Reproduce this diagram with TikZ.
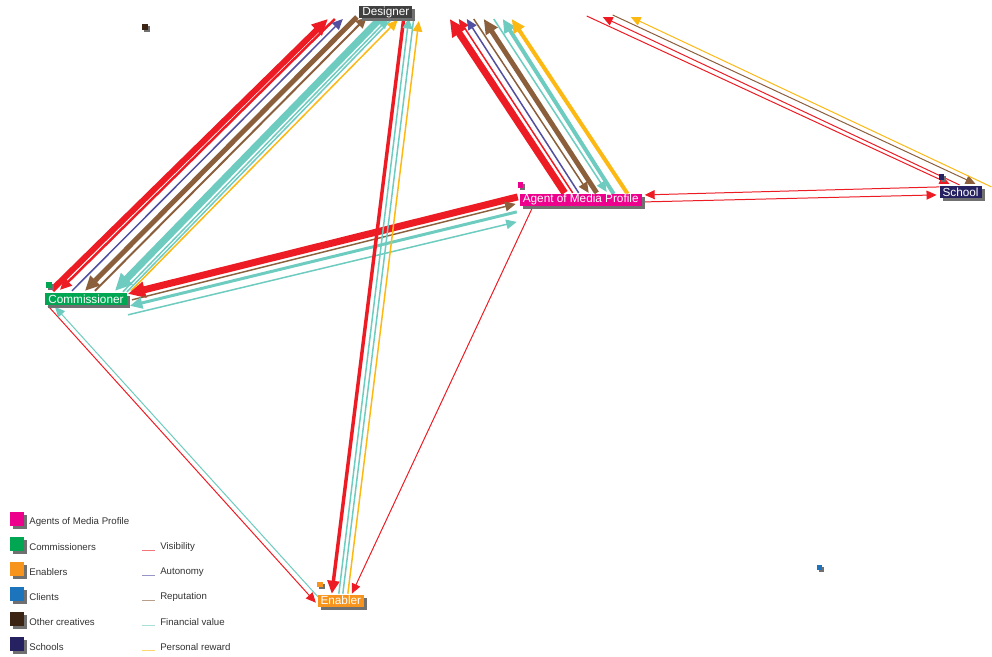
\documentclass[tikz,border=0pt]{standalone}
\usepackage{fontspec}
\setmainfont{Liberation Sans}
\usetikzlibrary{arrows.meta,shadows}
\definecolor{agentpink}{HTML}{EC008C}
\definecolor{commgreen}{HTML}{00A651}
\definecolor{enabor}{HTML}{F7941D}
\definecolor{clientblue}{HTML}{1C75BC}
\definecolor{otherbrown}{HTML}{3C2415}
\definecolor{schoolnavy}{HTML}{262262}
\definecolor{desgray}{HTML}{404041}
\definecolor{shadgray}{HTML}{707070}
\definecolor{visred}{HTML}{ED1C24}
\definecolor{autpurple}{HTML}{524FA1}
\definecolor{repbrown}{HTML}{8B5E3C}
\definecolor{finteal}{HTML}{6DCCBF}
\definecolor{peryellow}{HTML}{FDB913}
\definecolor{keygray}{HTML}{333333}
\pgfdeclarelayer{bg}
\pgfdeclarelayer{edges}
\pgfsetlayers{bg,edges,main}
\tikzset{
  lbl/.style={text=white, font=\fontsize{6.7pt}{7pt}\selectfont, inner xsep=0.06cm, inner ysep=0pt,
    minimum height=0.24cm, drop shadow={shadow xshift=0.06cm, shadow yshift=-0.06cm, fill=shadgray, opacity=1}},
  mk/.style={minimum size=0.11cm, inner sep=0pt,
    drop shadow={shadow xshift=0.04cm, shadow yshift=-0.04cm, fill=shadgray, opacity=1}},
  key/.style={minimum size=0.28cm, inner sep=0pt,
    drop shadow={shadow xshift=0.06cm, shadow yshift=-0.06cm, fill=shadgray, opacity=1}},
  keytxt/.style={anchor=west, inner sep=0pt, text=keygray, font=\fontsize{5.5pt}{6pt}\selectfont},
  lw/.style={line width=#1*0.567pt},
  hd/.style={-{Triangle[length=5pt 1.2, width'=0pt .9]}}
}

\begin{document}
\begin{tikzpicture}[x=0.02cm, y=-0.02cm]
  \begin{pgfonlayer}{bg}
  \useasboundingbox[fill=white] (0,0) rectangle (992,657);
  \end{pgfonlayer}

  % nodes
  \node[lbl, fill=desgray] (des) at (386,12) {Designer};
  \node[lbl, fill=agentpink] (agt) at (581,200) {Agent of Media Profile};
  \node[lbl, fill=schoolnavy] (sch) at (961,192) {School};
  \node[lbl, fill=commgreen] (com) at (86,299) {Commissioner};
  \node[lbl, fill=enabor] (enb) at (341,601) {Enabler};
  \coordinate (top) at (610,16);

  % markers
  \node[mk, fill=agentpink] (agtm) at (521,185) {};
  \node[mk, fill=schoolnavy] (schm) at (942,177) {};
  \node[mk, fill=commgreen] (comm) at (49,285) {};
  \node[mk, fill=enabor] (enbm) at (320,585) {};
  \node[mk, fill=otherbrown] (othm) at (145,27) {};
  \node[mk, fill=clientblue] (clim) at (820,568) {};

  \begin{pgfonlayer}{edges}
  % commissioner - designer
  \draw[visred, lw=6, hd] ([shift={(-34,-9)}]com.center) -- ([shift={(-58,7)}]des.center);
  \draw[visred, lw=2.5, hd] ([shift={(-51,7)}]des.center) -- ([shift={(-26,-9)}]com.center);
  \draw[autpurple, lw=1.5, hd] ([shift={(-14,-8)}]com.center) -- ([shift={(-43,7)}]des.center);
  \draw[repbrown, lw=5, hd] ([shift={(-29,5)}]des.center) -- ([shift={(-1,-8)}]com.center);
  \draw[repbrown, lw=2, hd] ([shift={(9,-8)}]com.center) -- ([shift={(-19,5)}]des.center);
  \draw[finteal, lw=7, hd] ([shift={(-5,6)}]des.center) -- ([shift={(29,-8)}]com.center);
  \draw[finteal, lw=1.5, hd] ([shift={(37,-7)}]com.center) -- ([shift={(3,6)}]des.center);
  \draw[finteal, lw=1.5] ([shift={(41,-7)}]com.center) -- ([shift={(7,6)}]des.center);
  \draw[peryellow, lw=1.5, hd] ([shift={(45,-8)}]com.center) -- ([shift={(12,8)}]des.center);

  % agent - designer
  \draw[visred, lw=7, hd] ([shift={(-16,-7)}]agt.center) -- ([shift={(64,7)}]des.center);
  \draw[visred, lw=1.5, hd] ([shift={(-8,-7)}]agt.center) -- ([shift={(73,7)}]des.center);
  \draw[autpurple, lw=1.5, hd] ([shift={(-2,-7)}]agt.center) -- ([shift={(81,7)}]des.center);
  \draw[repbrown, lw=1.5, hd] ([shift={(88,7)}]des.center) -- ([shift={(8,-7)}]agt.center);
  \draw[repbrown, lw=5, hd] ([shift={(16,-7)}]agt.center) -- ([shift={(98,7)}]des.center);
  \draw[finteal, lw=1.5, hd] ([shift={(108,7)}]des.center) -- ([shift={(26,-8)}]agt.center);
  \draw[finteal, lw=4, hd] ([shift={(33,-6)}]agt.center) -- ([shift={(117,7)}]des.center);
  \draw[peryellow, lw=4, hd] ([shift={(47,-6)}]agt.center) -- ([shift={(126,7)}]des.center);

  % agent - commissioner
  \draw[visred, lw=7, hd] ([shift={(-63,-3)}]agt.center) -- ([shift={(42,-5)}]com.center);
  \draw[repbrown, lw=1.5, hd] ([shift={(46,1)}]com.center) -- ([shift={(-65,4)}]agt.center);
  \draw[finteal, lw=3, hd] ([shift={(-64,12)}]agt.center) -- ([shift={(44,7)}]com.center);
  \draw[finteal, lw=1.5, hd] ([shift={(42,16)}]com.center) -- ([shift={(-64,22)}]agt.center);

  % commissioner - enabler
  \draw[visred, lw=1, hd] ([shift={(-38,7)}]com.center) -- ([shift={(-25,2)}]enb.center);
  \draw[finteal, lw=1, hd] ([shift={(-23,-4)}]enb.center) -- ([shift={(-31,8)}]com.center);

  % designer - enabler
  \draw[visred, lw=3.5, hd] ([shift={(18,6)}]des.center) -- ([shift={(-9,-7)}]enb.center);
  \draw[finteal, lw=1.5, hd] ([shift={(-2,-7)}]enb.center) -- ([shift={(23,6)}]des.center);
  \draw[finteal, lw=1.5] ([shift={(28,6)}]des.center) -- ([shift={(2,-7)}]enb.center);
  \draw[peryellow, lw=1.5, hd] ([shift={(7,-7)}]enb.center) -- ([shift={(33,9)}]des.center);

  % agent - enabler
  \draw[visred, lw=1, hd] ([shift={(-48,7)}]agt.center) -- ([shift={(11,-7)}]enb.center);

  % agent - school
  \draw[visred, lw=1, hd] ([shift={(-21,-5)}]sch.center) -- ([shift={(64,-5)}]agt.center);
  \draw[visred, lw=1, hd] ([shift={(64,2)}]agt.center) -- ([shift={(-24,3)}]sch.center);

  % school - top
  \draw[visred, lw=1, hd] ([shift={(-23,0)}]top) -- ([shift={(-11,-8)}]sch.center);
  \draw[visred, lw=1, hd] ([shift={(-1,-7)}]sch.center) -- ([shift={(-7,1)}]top);
  \draw[repbrown, lw=1, hd] ([shift={(3,-1)}]top) -- ([shift={(15,-8)}]sch.center);
  \draw[peryellow, lw=1, hd] ([shift={(31,-5)}]sch.center) -- ([shift={(21,1)}]top);
  \end{pgfonlayer}

  % legend
  \foreach \c/\t [count=\i from 0] in {agentpink/Agents of Media Profile, commgreen/Commissioners,
      enabor/Enablers, clientblue/Clients, otherbrown/Other creatives, schoolnavy/Schools} {
    \node[key, fill=\c] (key\i) at (17,519+25*\i) {};
    \node[keytxt] (keyt\i) at (29,522+25*\i) {\t};
  }
  \foreach \c/\t [count=\i from 1] in {visred/Visibility, autpurple/Autonomy, repbrown/Reputation,
      finteal/Financial value, peryellow/Personal reward} {
    \draw[\c, opacity=.6, lw=1.5] (142,526+25*\i) -- (155,526+25*\i);
    \node[keytxt] (linet\i) at (160,522+25*\i) {\t};
  }
\end{tikzpicture}
\end{document}
